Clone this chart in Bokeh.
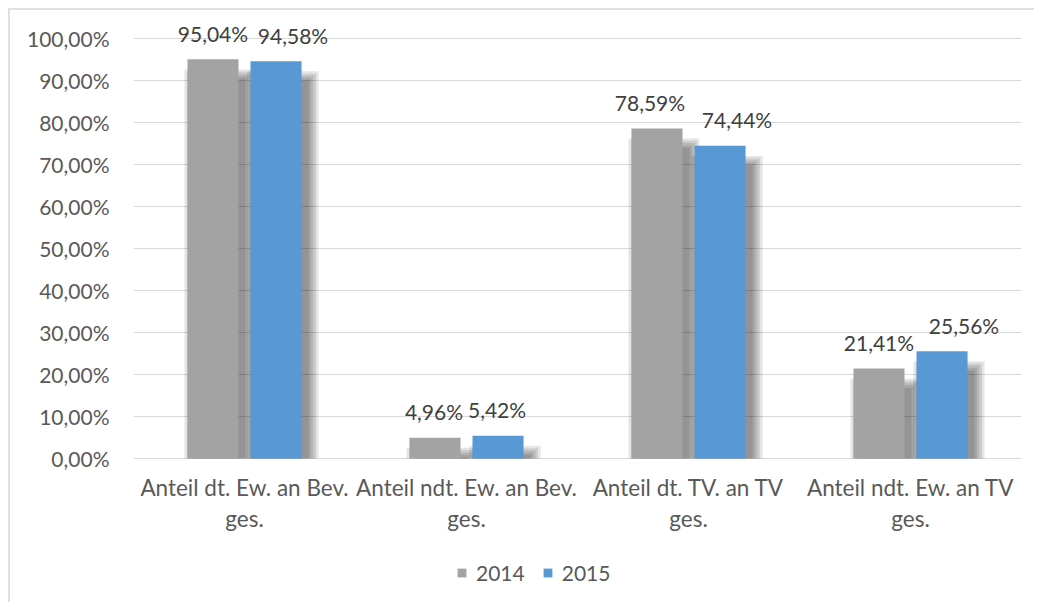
from bokeh.plotting import figure
from bokeh.models import ColumnDataSource, FixedTicker, CustomJSTickFormatter, Legend, LegendItem, FactorRange, Range1d
from bokeh.transform import dodge
from bokeh.core.properties import value
from bokeh.embed import file_html
from bokeh.resources import INLINE

categories = ["Anteil dt. Ew. an Bev.\nges.", "Anteil ndt. Ew. an Bev.\nges.",
              "Anteil dt. TV. an TV\nges.", "Anteil ndt. Ew. an TV\nges."]
v2014 = [95.04, 4.96, 78.59, 21.41]
v2015 = [94.58, 5.42, 74.44, 25.56]
series_names = ["2014", "2015"]
y_ticks = [0, 10, 20, 30, 40, 50, 60, 70, 80, 90, 100]

# styling
FONT = "Lato"
GRAY = "#a3a3a3"
BLUE = "#5898d5"
label_nudge_2014 = [0, -1, -7, 0]    # px, label collision avoidance
label_nudge_2015 = [17, -1, 17, 22]

def fmt(v):
    return f"{v:.2f}".replace(".", ",") + "%"

data = dict(cat=categories, a=v2014, b=v2015, zero=[0] * len(categories),
            la=[fmt(v) for v in v2014], lb=[fmt(v) for v in v2015],
            na=label_nudge_2014, nb=label_nudge_2015)
n_layers = 5
for i in range(n_layers):
    data[f"sa{i}"] = [max(v - 4.6 + i * 0.55, 0) for v in v2014]
    data[f"sb{i}"] = [max(v - 4.6 + i * 0.55, 0) for v in v2015]
src = ColumnDataSource(data)

H = 594
TOP = 7
PXU = 4.2  # pixels per percent
y_end = 105
y_start = y_end - (H - TOP) / PXU

p = figure(width=1026, height=H, x_range=FactorRange(*categories, range_padding=0),
           y_range=Range1d(y_start, y_end), output_backend="svg", toolbar_location=None,
           min_border_left=123, min_border_right=15, min_border_top=TOP, min_border_bottom=0)
p.styles = {"border-left": "2px solid #e0e0e0", "border-top": "2px solid #e0e0e0",
            "margin-left": "8px", "margin-top": "8px"}
p.outline_line_color = None

off = 0.142
w = 0.23
px = 1 / 222.0
# soft drop shadows
for i in range(n_layers):
    e = (n_layers - 1 - i) * 2.5 * px
    for col, d in [("sa", -off), ("sb", off)]:
        p.vbar(x=dodge("cat", d + 7 * px, range=p.x_range), top=f"{col}{n_layers - 1 - i}",
               bottom=0, width=w + 2 * e, source=src,
               fill_color="#000000", fill_alpha=0.1, line_color=None)

r1 = p.vbar(x=dodge("cat", -off, range=p.x_range), top="a", width=w, source=src,
            fill_color=GRAY, line_color=None)
r2 = p.vbar(x=dodge("cat", off, range=p.x_range), top="b", width=w, source=src,
            fill_color=BLUE, line_color=None)

for col, lab, d, nud in [("a", "la", -off, "na"), ("b", "lb", off, "nb")]:
    p.text(x=dodge("cat", d, range=p.x_range), y=col, text=lab, source=src,
           text_align="center", text_baseline="alphabetic", y_offset=-26, x_offset=nud,
           text_font=value(FONT), text_font_size="21px", text_color="#404040")

# category labels under the baseline
p.text(x="cat", y="zero", text="cat", source=src, text_align="center", text_baseline="top",
       y_offset=15, text_line_height=1.16, text_font=value(FONT), text_font_size="22.5px",
       text_color="#595959")

p.yaxis.ticker = FixedTicker(ticks=y_ticks)
p.yaxis.formatter = CustomJSTickFormatter(code="return tick.toFixed(2).replace('.', ',') + '%';")
p.yaxis.axis_line_color = None
p.yaxis.major_tick_line_color = None
p.yaxis.minor_tick_line_color = None
p.yaxis.major_label_text_font = FONT
p.yaxis.major_label_text_font_size = "21px"
p.yaxis.major_label_text_color = "#595959"
p.yaxis.major_label_standoff = 18

p.xaxis.visible = False
p.xgrid.grid_line_color = None
p.ygrid.grid_line_color = "#d9d9d9"
p.ygrid.ticker = FixedTicker(ticks=y_ticks)

legend = Legend(items=[LegendItem(label=series_names[0], renderers=[r1]),
                       LegendItem(label=series_names[1], renderers=[r2])],
                orientation="horizontal", location=(323, 19),
                glyph_width=11, glyph_height=11, label_standoff=9, spacing=17,
                padding=0, margin=0, border_line_color=None, background_fill_alpha=0,
                label_text_font=FONT, label_text_font_size="21px", label_text_color="#595959")
p.add_layout(legend, "center")

open("out.html", "w").write(file_html(p, INLINE))
